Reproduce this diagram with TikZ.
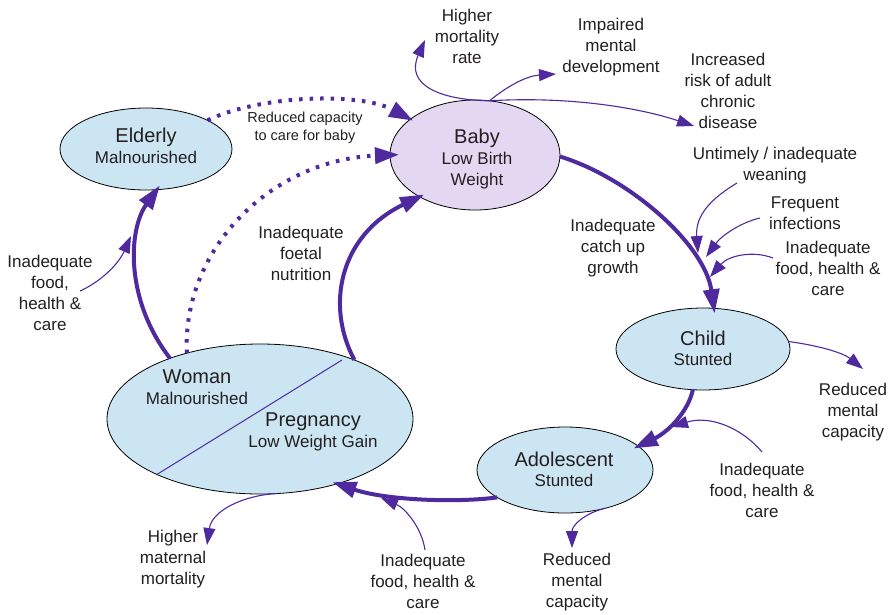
\documentclass[tikz,border=0pt]{standalone}
\usepackage{fontspec}
\setmainfont{Liberation Sans}
\usetikzlibrary{arrows.meta,shapes.geometric}
\definecolor{arrowpurple}{RGB}{78,42,158}
\definecolor{nodeblue}{RGB}{204,229,243}
\definecolor{nodelilac}{RGB}{228,215,241}
\definecolor{txt}{RGB}{35,31,32}
\tikzset{
  stage/.style={ellipse, draw=black, line width=0.8pt, inner sep=0pt, outer sep=0pt},
  lbl/.style={align=center, text=txt, font=\fontsize{17}{21}\selectfont, inner sep=0pt},
  smalllbl/.style={align=center, text=txt, font=\fontsize{14.5}{18}\selectfont, inner sep=0pt},
  ttl/.style={text=txt, font=\fontsize{20}{24}\selectfont, inner sep=0pt, anchor=base},
  subttl/.style={text=txt, font=\fontsize{17}{21}\selectfont, inner sep=0pt, anchor=base},
  mainflow/.style={draw=arrowpurple, line width=4pt, shorten >=-5pt, -{Triangle[length=24pt,width=16pt]}},
  dotflow/.style={draw=arrowpurple, line width=4pt, dash pattern=on 3.5pt off 7pt, -{Triangle[length=24pt,width=16pt]}},
  effect/.style={draw=arrowpurple, line width=1.1pt, -{Triangle[length=17pt,width=12pt]}}
}
\begin{document}
\begin{tikzpicture}[x=1pt,y=-1pt]
\useasboundingbox (0,0) rectangle (896,614);

% stages
\node[stage, fill=nodeblue, minimum width=172pt, minimum height=82pt] (elderly) at (146,149) {};
\node[stage, fill=nodelilac, minimum width=170pt, minimum height=110pt] (baby) at (475,155) {};
\node[stage, fill=nodeblue, minimum width=174pt, minimum height=82pt] (child) at (703,349) {};
\node[stage, fill=nodeblue, minimum width=176pt, minimum height=86pt] (adolescent) at (565,470) {};
\node[stage, fill=nodeblue, minimum width=306pt, minimum height=150pt] (woman) at (260,419) {};
\draw[arrowpurple, line width=1pt] (342,360) -- (156,475);

% stage texts
\node[ttl] (elderly-t) at (146,142) {Elderly};
\node[subttl] (elderly-s) at (146,163) {Malnourished};
\node[ttl] (baby-t) at (477,143) {Baby};
\node[subttl] (baby-s1) at (477,164) {Low Birth};
\node[subttl] (baby-s2) at (477,185) {Weight};
\node[ttl] (child-t) at (703,345) {Child};
\node[subttl] (child-s) at (703,365) {Stunted};
\node[ttl] (adol-t) at (564,466) {Adolescent};
\node[subttl] (adol-s) at (564,486) {Stunted};
\node[ttl] (woman-t) at (197,383) {Woman};
\node[subttl] (woman-s) at (197,404) {Malnourished};
\node[ttl] (preg-t) at (313,426) {Pregnancy};
\node[subttl] (preg-s) at (313,447) {Low Weight Gain};

% main cycle
\draw[mainflow] (woman.146) .. controls (125,300) and (128,230) .. (elderly.-75);
\draw[mainflow] (woman.32) .. controls (325,305) and (340,235) .. (baby.-143);
\draw[mainflow] (baby.-1) .. controls (630,178) and (705,245) .. (child.75);
\draw[mainflow] (child.-104) .. controls (688,412) and (668,432) .. (adolescent.18);
\draw[mainflow] (adolescent.-158) .. controls (455,503) and (385,500) .. (woman.-40);

% dotted influences
\draw[dotflow, shorten >=-3pt] (elderly.25) .. controls (260,95) and (360,92) .. (baby.151);
\draw[dotflow, shorten >=-9pt] (woman.138) .. controls (182,250) and (270,160) .. (baby.180);

% labels
\node[lbl] (l-hmr) at (467,36) {Higher\\mortality\\rate};
\node[lbl] (l-imd) at (611,47) {Impaired\\mental\\development};
\node[lbl] (l-risk) at (728,91) {Increased\\risk of adult\\chronic\\disease};
\node[smalllbl] (l-rcap) at (305,128) {Reduced capacity\\to care for baby};
\node[lbl] (l-foetal) at (301,253) {Inadequate\\foetal\\nutrition};
\node[lbl] (l-food0) at (50,293) {Inadequate\\food,\\health \&\\care};
\node[lbl] (l-catch) at (613,248) {Inadequate\\catch up\\growth};
\node[lbl] (l-wean) at (775,166) {Untimely / inadequate\\weaning};
\node[lbl] (l-freq) at (805,213) {Frequent\\infections};
\node[lbl] (l-food1) at (828,268) {Inadequate\\food, health \&\\care};
\node[lbl] (l-rmc1) at (853,412) {Reduced\\mental\\capacity};
\node[lbl] (l-food2) at (762,490) {Inadequate\\food, health \&\\care};
\node[lbl] (l-rmc2) at (577,582) {Reduced\\mental\\capacity};
\node[lbl] (l-food3) at (423,581) {Inadequate\\food, health \&\\care};
\node[lbl] (l-hmm) at (173,559) {Higher\\maternal\\mortality};

% free ends
\coordinate (tip-hmr) at (425,40);
\coordinate (tip-imd) at (556,74);
\coordinate (tip-risk) at (694,126);
\coordinate (src-food0) at (80,291);
\coordinate (tip-food0) at (131,236);
\coordinate (src-wean) at (737,183);
\coordinate (tip-wean) at (698,253);
\coordinate (src-freq) at (760,218);
\coordinate (tip-freq) at (706,257);
\coordinate (src-food1) at (773,258);
\coordinate (tip-food1) at (710,277);
\coordinate (tip-rmc1) at (863,369);
\coordinate (src-food2) at (762,452);
\coordinate (tip-food2) at (671,427);
\coordinate (tip-rmc2) at (572,548);
\coordinate (src-food3) at (425,550);
\coordinate (tip-food3) at (381,498);
\coordinate (tip-hmm) at (207,545);

% effects
\draw[effect] (baby.75) .. controls (440,100) and (405,85) .. (tip-hmr);
\draw[effect] (baby.75) .. controls (505,88) and (525,76) .. (tip-imd);
\draw[effect] (baby.75) .. controls (570,96) and (640,108) .. (tip-risk);
\draw[effect] (src-food0) .. controls (100,282) and (118,265) .. (tip-food0);
\draw[effect] (src-wean) .. controls (712,198) and (695,215) .. (tip-wean);
\draw[effect] (src-freq) .. controls (742,222) and (722,235) .. (tip-freq);
\draw[effect] (src-food1) .. controls (752,250) and (728,256) .. (tip-food1);
\draw[effect] (child.5) .. controls (815,345) and (842,352) .. (tip-rmc1);
\draw[effect] (src-food2) .. controls (742,428) and (710,415) .. (tip-food2);
\draw[effect] (adolescent.-43) .. controls (585,513) and (572,525) .. (tip-rmc2);
\draw[effect] (src-food3) .. controls (422,528) and (405,508) .. (tip-food3);
\draw[effect] (woman.-77) .. controls (245,495) and (212,510) .. (tip-hmm);
\end{tikzpicture}
\end{document}
